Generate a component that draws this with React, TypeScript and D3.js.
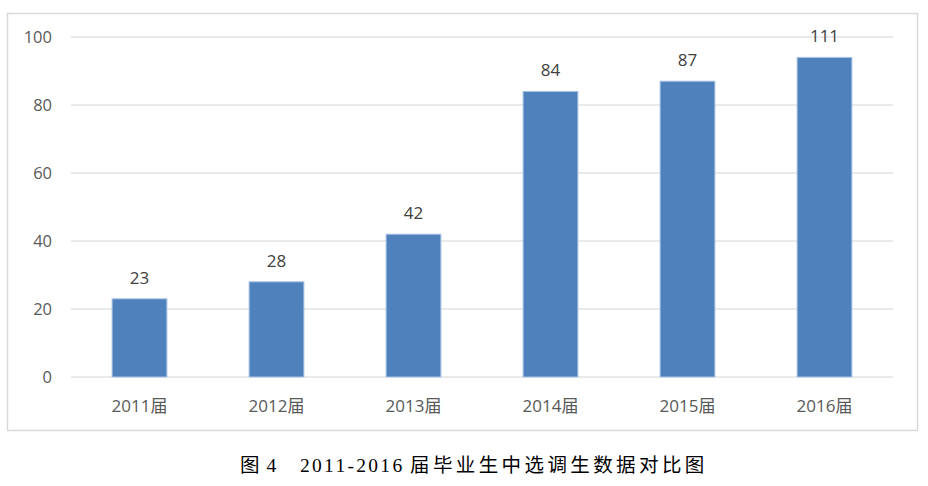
import React from "react";
import * as d3 from "d3";

const categories = ["2011届", "2012届", "2013届", "2014届", "2015届", "2016届"];
const barValues = [23, 28, 42, 84, 87, 94];
const valueLabels = ["23", "28", "42", "84", "87", "111"];
const yTicks = [0, 20, 40, 60, 80, 100];
const titleParts = ["图 4", "2011-2016", "届毕业生中选调生数据对比图"];

export default function App() {
  const W = 928, H = 486;
  const plotLeft = 71, plotRight = 893, plotTop = 37, plotBottom = 377;
  const x = d3.scaleBand<string>().domain(categories).range([plotLeft, plotRight]).paddingInner(0.6).paddingOuter(0.3);
  const y = d3.scaleLinear().domain([0, 100]).range([plotBottom, plotTop]);
  const sans = "'Open Sans', 'Noto Sans CJK SC', sans-serif";
  const serif = "'Liberation Serif', 'Noto Sans CJK SC', serif";
  return (
    <svg width={W} height={H} style={{ position: "absolute", left: 0, top: 0, background: "#fff" }}>
      <rect x={7.5} y={13.5} width={910} height={417} fill="#fff" stroke="#D9D9D9" strokeWidth={1.5} />
      {yTicks.map((t) => (
        <g key={t}>
          <line x1={plotLeft} x2={plotRight} y1={y(t)} y2={y(t)} stroke="#E3E3E3" strokeWidth={1.5} />
          <text x={52} y={y(t)} dy="0.35em" textAnchor="end" fontFamily={sans} fontSize={16.5} fill="#595959">{t}</text>
        </g>
      ))}
      {categories.map((c, i) => (
        <g key={c}>
          <rect x={x(c)!} y={y(barValues[i])} width={x.bandwidth()} height={plotBottom - y(barValues[i])} fill="#4F81BD" stroke="#A9C4E6" strokeWidth={1} />
          <text x={x(c)! + x.bandwidth() / 2} y={y(barValues[i]) - 15} textAnchor="middle" fontFamily={sans} fontSize={17} fill="#404040">{valueLabels[i]}</text>
          <text x={x(c)! + x.bandwidth() / 2} y={412} textAnchor="middle" fontFamily={sans} fontSize={17} fill="#595959">{c}</text>
        </g>
      ))}
      <text y={472} fontFamily={serif} fontSize={19.5} fill="#000">
        <tspan x={240} letterSpacing={1}>{titleParts[0]}</tspan>
        <tspan x={300} letterSpacing={2.3}>{titleParts[1]}</tspan>
        <tspan x={410} letterSpacing={3.4} fontFamily="'Noto Sans CJK SC', sans-serif">{titleParts[2]}</tspan>
      </text>
    </svg>
  );
}
